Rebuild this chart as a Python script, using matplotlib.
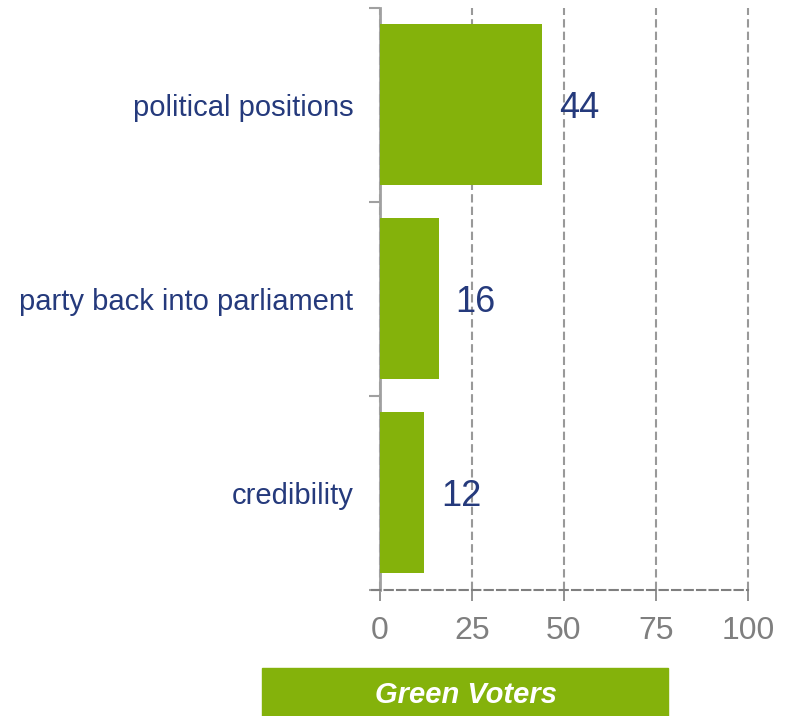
import matplotlib.pyplot as plt
from matplotlib.patches import Rectangle

# dados
categorias = ["political positions", "party back into parliament", "credibility"]
valores = [44, 16, 12]
ticks_x = [0, 25, 50, 75, 100]
legenda = "Green Voters"

verde = "#84b20b"
azul = "#253a7c"
cinza = "#7f7f7f"

plt.rcParams['font.family'] = ['Liberation Sans', 'DejaVu Sans']

fig = plt.figure(figsize=(7.93, 7.16), dpi=100)
ax = fig.add_axes([0.479, 0.176, 0.464, 0.813])

pos = list(range(len(categorias)))
ax.barh(pos, valores, height=0.83, color=verde, zorder=3)
ax.set_ylim(len(categorias) - 0.5, -0.5)
ax.set_xlim(0, 100)

for p, v in zip(pos, valores):
    ax.text(v + 4.6, p + 0.02, str(v), va='center', ha='left',
            fontsize=26, color=azul, zorder=4)

# rótulos das categorias sem marcas, marcas nas fronteiras
ax.set_yticks(pos)
ax.set_yticklabels(categorias, fontsize=21, color=azul)
ax.tick_params(axis='y', which='major', length=0, pad=19)
ax.set_yticks([p - 0.5 for p in pos] + [len(pos) - 0.5], minor=True)
ax.tick_params(axis='y', which='minor', length=8, width=1.5, color='#a0a0a0')

ax.set_xticks(ticks_x)
ax.set_xticklabels([str(t) for t in ticks_x], fontsize=23, color=cinza)
ax.tick_params(axis='x', length=8, width=1.2, color=cinza, pad=11)

ax.grid(axis='x', linestyle=(0, (4, 2)), color='#999999', linewidth=1.5, zorder=0)
for gl in ax.get_xgridlines():
    gl.set_clip_on(False)

for lado in ['top', 'right']:
    ax.spines[lado].set_visible(False)
ax.spines['left'].set_color('#a0a0a0')
ax.spines['left'].set_linewidth(2)
ax.spines['bottom'].set_color(cinza)
ax.spines['bottom'].set_linestyle((0, (4, 2)))
ax.spines['bottom'].set_linewidth(1.5)
ax.spines['bottom'].set_bounds(-2.2, 100)

# caixa da legenda
fig.patches.append(Rectangle((262 / 793, 0), 406 / 793, 48 / 716,
                             transform=fig.transFigure, color=verde))
fig.text(466 / 793, 21 / 716, legenda, ha='center', va='center',
         fontsize=21, color='white', fontweight='bold', fontstyle='italic')

fig.savefig("out.png", dpi=100)
